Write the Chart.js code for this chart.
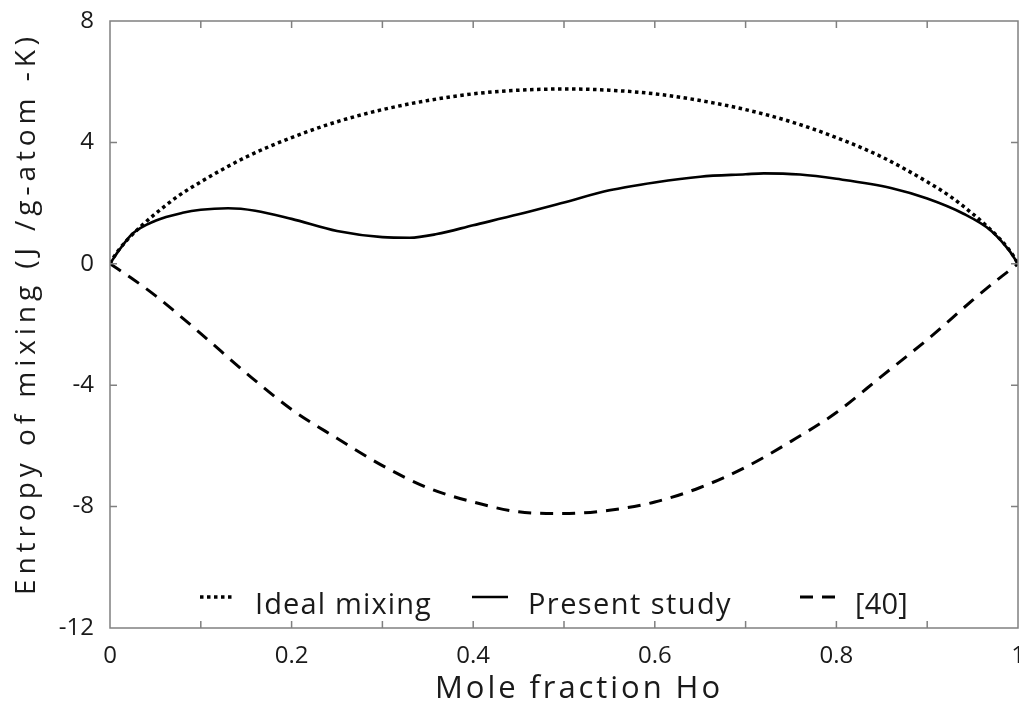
<!DOCTYPE html>
<html>
<head>
<meta charset="utf-8">
<script src="https://cdn.jsdelivr.net/npm/chart.js@4.4.1/dist/chart.umd.min.js"></script>
<style>
html,body{margin:0;padding:0;background:#fff;}
#wrap{width:1019px;height:710px;position:relative;}
</style>
</head>
<body>
<div id="wrap"><canvas id="c" width="1019" height="710"></canvas></div>
<script>
// ---- data ----
const idealX = [0, 0.005, 0.01, 0.02, 0.035, 0.05, 0.075, 0.1, 0.15, 0.2, 0.25, 0.3, 0.35, 0.4, 0.45, 0.5, 0.55, 0.6, 0.65, 0.7, 0.75, 0.8, 0.85, 0.9, 0.925, 0.95, 0.965, 0.98, 0.99, 0.995, 1];
const idealY = [0, 0.26, 0.47, 0.82, 1.26, 1.65, 2.23, 2.70, 3.52, 4.16, 4.68, 5.08, 5.38, 5.60, 5.72, 5.76, 5.72, 5.60, 5.38, 5.08, 4.68, 4.16, 3.52, 2.70, 2.23, 1.65, 1.26, 0.82, 0.47, 0.26, 0];

const presentX = [0, 0.01, 0.025, 0.05, 0.08, 0.1, 0.13, 0.16, 0.2, 0.25, 0.3, 0.33, 0.36, 0.4, 0.45, 0.5, 0.55, 0.6, 0.65, 0.7, 0.72, 0.76, 0.8, 0.86, 0.9, 0.94, 0.97, 0.99, 1];
const presentY = [0, 0.45, 1.0, 1.42, 1.68, 1.78, 1.83, 1.75, 1.48, 1.08, 0.88, 0.86, 0.98, 1.27, 1.63, 2.02, 2.42, 2.68, 2.87, 2.95, 2.98, 2.94, 2.80, 2.50, 2.15, 1.65, 1.10, 0.45, 0];

const ref40X = [0, 0.025, 0.05, 0.1, 0.15, 0.2, 0.25, 0.3, 0.35, 0.4, 0.45, 0.5, 0.55, 0.6, 0.65, 0.7, 0.75, 0.8, 0.85, 0.9, 0.95, 0.975, 1];
const ref40Y = [0, -0.5, -1.05, -2.3, -3.6, -4.8, -5.75, -6.65, -7.38, -7.85, -8.17, -8.23, -8.12, -7.85, -7.37, -6.7, -5.85, -4.9, -3.7, -2.5, -1.2, -0.58, 0];

const seriesNames = ["Ideal mixing", "Present study", "[40]"];
const xTickLabels = ["0", "0.2", "0.4", "0.6", "0.8", "1"];
const yTickLabels = ["8", "4", "0", "-4", "-8", "-12"];
const xTitle = "Mole fraction Ho";
const yTitle = "Entropy of mixing (J /g-atom -K)";

const pts = (xs, ys) => xs.map((x, i) => ({x: x, y: ys[i]}));

const FONT = "'Open Sans', 'Noto Sans', sans-serif";
const AXIS_COLOR = '#808080';
const TEXT_COLOR = '#1a1a1a';

const dashStyles = [[3.5, 3.5], [], [13, 9]];
const widths = [3.5, 2.6, 3];

// draw text spread to a given width (letter spacing like the reference)
function spreadText(ctx, text, x, y, width) {
  ctx.letterSpacing = '0px';
  const w = ctx.measureText(text).width;
  const n = text.length;
  const ls = Math.max(0, (width - w) / n);
  ctx.letterSpacing = ls.toFixed(2) + 'px';
  ctx.fillText(text, x, y);
  ctx.letterSpacing = '0px';
}

const framePlugin = {
  id: 'frameTicks',
  afterDraw(chart) {
    const ctx = chart.ctx, a = chart.chartArea;
    const xs = chart.scales.x, ys = chart.scales.y;
    ctx.save();
    ctx.strokeStyle = AXIS_COLOR;
    ctx.lineWidth = 1.5;
    ctx.setLineDash([]);
    ctx.strokeRect(a.left, a.top, a.right - a.left, a.bottom - a.top);
    const tl = 7;
    ctx.beginPath();
    xs.ticks.forEach(t => {
      const px = xs.getPixelForValue(t.value);
      if (px <= a.left + 1 || px >= a.right - 1) return;
      ctx.moveTo(px, a.bottom); ctx.lineTo(px, a.bottom - tl);
      ctx.moveTo(px, a.top); ctx.lineTo(px, a.top + tl);
    });
    ys.ticks.forEach(t => {
      const py = ys.getPixelForValue(t.value);
      if (py <= a.top + 1 || py >= a.bottom - 1) return;
      ctx.moveTo(a.left, py); ctx.lineTo(a.left + tl, py);
      ctx.moveTo(a.right, py); ctx.lineTo(a.right - tl, py);
    });
    ctx.stroke();

    // axis titles
    ctx.fillStyle = TEXT_COLOR;
    ctx.textBaseline = 'middle';
    ctx.textAlign = 'left';
    ctx.font = '31px ' + FONT;
    spreadText(ctx, xTitle, 435, 689, 288);
    ctx.save();
    ctx.translate(27, 595);
    ctx.rotate(-Math.PI / 2);
    ctx.font = '28px ' + FONT;
    spreadText(ctx, yTitle, 0, 0, 563);
    ctx.restore();

    // legend inside the plot, along the bottom
    const items = [
      {x0: 200, x1: 233, tx: 255, w: 177},
      {x0: 472, x1: 508, tx: 528, w: 204},
      {x0: 800, x1: 838, tx: 855, w: 53}
    ];
    const ly = 597;
    ctx.font = '29px ' + FONT;
    ctx.textBaseline = 'alphabetic';
    items.forEach((it, i) => {
      ctx.beginPath();
      ctx.strokeStyle = '#000';
      ctx.lineWidth = widths[i];
      ctx.setLineDash(dashStyles[i]);
      ctx.lineCap = 'butt';
      ctx.moveTo(it.x0, ly); ctx.lineTo(it.x1, ly);
      ctx.stroke();
      ctx.setLineDash([]);
      ctx.fillStyle = TEXT_COLOR;
      spreadText(ctx, seriesNames[i], it.tx, 614, it.w);
    });
    ctx.restore();
  }
};

const mk = (i, xs, ys) => ({
  label: seriesNames[i],
  data: pts(xs, ys),
  borderColor: '#000',
  backgroundColor: '#000',
  borderWidth: widths[i],
  borderDash: dashStyles[i],
  pointRadius: 0,
  fill: false,
  cubicInterpolationMode: 'monotone',
  borderCapStyle: 'butt'
});

const noPad = s => { s.paddingLeft = 0; s.paddingRight = 0; s.paddingTop = 0; s.paddingBottom = 0; };

new Chart(document.getElementById('c'), {
  type: 'line',
  data: {
    datasets: [
      mk(0, idealX, idealY),
      mk(1, presentX, presentY),
      mk(2, ref40X, ref40Y)
    ]
  },
  options: {
    responsive: false,
    animation: false,
    devicePixelRatio: 1,
    layout: {padding: {top: 21, right: 1, left: 0, bottom: 0}},
    plugins: {legend: {display: false}, tooltip: {enabled: false}},
    scales: {
      x: {
        type: 'linear', min: 0, max: 1,
        afterFit: s => { s.height = 82; noPad(s); },
        border: {display: false},
        grid: {display: false, drawTicks: false},
        ticks: {
          stepSize: 0.1, autoSkip: false, maxRotation: 0, padding: 14,
          color: TEXT_COLOR, font: {size: 24, family: FONT},
          callback: v => {
            const k = Math.round(v * 10);
            return k % 2 === 0 ? xTickLabels[k / 2] : '';
          }
        },
        title: {display: false}
      },
      y: {
        min: -12, max: 8,
        afterFit: s => { s.width = 110; noPad(s); },
        border: {display: false},
        grid: {display: false, drawTicks: false},
        ticks: {
          stepSize: 4, padding: 16,
          color: TEXT_COLOR, font: {size: 24, family: FONT},
          callback: v => yTickLabels[Math.round((8 - v) / 4)]
        },
        title: {display: false}
      }
    }
  },
  plugins: [framePlugin]
});
</script>
</body>
</html>
